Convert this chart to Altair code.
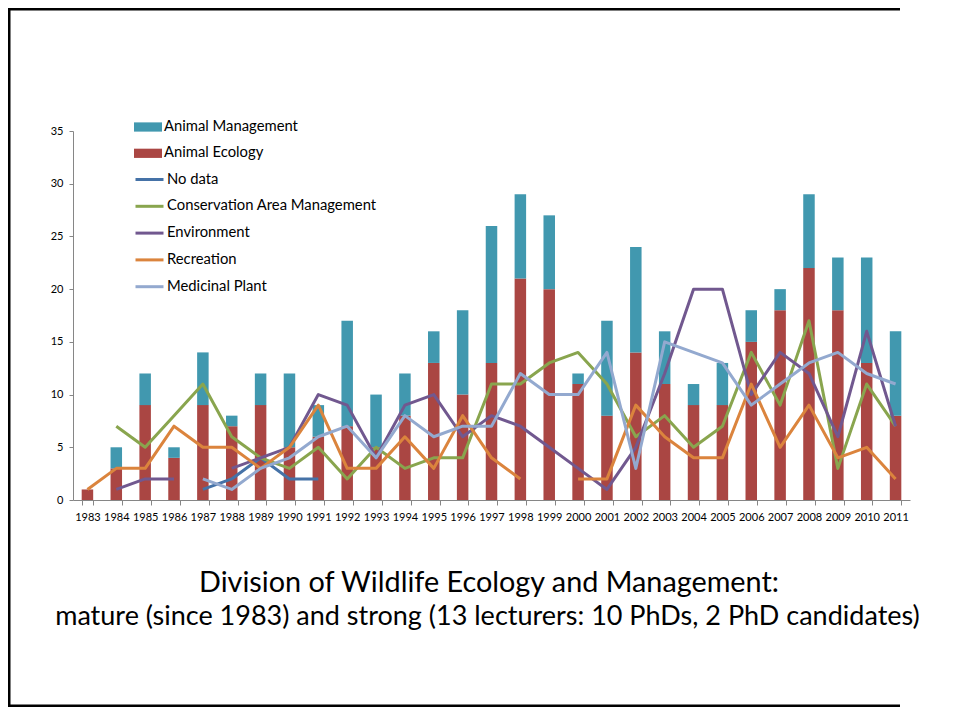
import altair as alt
import pandas as pd

years = ["1983", "1984", "1985", "1986", "1987", "1988", "1989", "1990", "1991", "1992",
         "1993", "1994", "1995", "1996", "1997", "1998", "1999", "2000", "2001", "2002",
         "2003", "2004", "2005", "2006", "2007", "2008", "2009", "2010", "2011"]

animal_ecology = [1, 3, 9, 4, 9, 7, 9, 5, 6, 7, 5, 8, 13, 10, 13, 21, 20, 11, 8, 14,
                  11, 9, 9, 15, 18, 22, 18, 13, 8]
animal_management = [0, 2, 3, 1, 5, 1, 3, 7, 3, 10, 5, 4, 3, 8, 13, 8, 7, 1, 9, 10,
                     5, 2, 4, 3, 2, 7, 5, 10, 8]

N = None
no_data = [N, N, N, N, 1, 2, 4, 2, 2, N, N, N, N, N, N, N, N, N, N, N,
           N, N, N, N, N, N, N, N, N]
conservation = [N, 7, 5, 8, 11, 6, 4, 3, 5, 2, 5, 3, 4, 4, 11, 11, 13, 14, 11, 6,
                8, 5, 7, 14, 9, 17, 3, 11, 7]
environment = [N, 1, 2, 2, N, 3, 4, 5, 10, 9, 4, 9, 10, 6, 8, 7, 5, 3, 1, 5,
               12, 20, 20, 10, 14, 12, 6, 16, 7]
recreation = [1, 3, 3, 7, 5, 5, 3, 5, 9, 3, 3, 6, 3, 8, 4, 2, N, 2, 2, 9,
              6, 4, 4, 11, 5, 9, 4, 5, 2]
medicinal = [N, N, N, N, 2, 1, 3, 4, 6, 7, 4, 8, 6, 7, 7, 12, 10, 10, 14, 3,
             15, 14, 13, 9, 11, 13, 14, 12, 11]

bar_names = ["Animal Management", "Animal Ecology"]
bar_colors = ["#4198AF", "#AA4643"]
line_names = ["No data", "Conservation Area Management", "Environment", "Recreation", "Medicinal Plant"]
line_colors = ["#4572A7", "#89A54E", "#71588F", "#DB843D", "#93A9CF"]
line_series = [no_data, conservation, environment, recreation, medicinal]

title_1 = "Division of Wildlife Ecology and Management:"
title_2 = "mature (since 1983) and strong (13 lecturers: 10 PhDs, 2 PhD candidates)"

FONT = "Lato"
W, H = 837, 369
PAD = {"left": 65, "top": 123, "right": 38, "bottom": 208}

bar_rows = []
for i, y in enumerate(years):
    bar_rows.append({"year": y, "series": "Animal Ecology", "value": animal_ecology[i], "ord": 0})
    bar_rows.append({"year": y, "series": "Animal Management", "value": animal_management[i], "ord": 1})
bar_df = pd.DataFrame(bar_rows)

x_enc = alt.X(
    "year:O",
    sort=years,
    scale=alt.Scale(paddingInner=0.6, paddingOuter=0.3),
    axis=alt.Axis(title=None, labelAngle=0, labelFontSize=11, labelFont=FONT, labelColor="#000000",
                  labelOverlap=False, tickBand="extent", tickSize=5, tickColor="#868686",
                  domainColor="#868686", labelPadding=6),
)
y_enc = alt.Y(
    "value:Q",
    stack="zero",
    scale=alt.Scale(domain=[0, 35], nice=False, zero=True),
    axis=alt.Axis(title=None, values=[0, 5, 10, 15, 20, 25, 30, 35], grid=False, labelFontSize=11,
                  labelFont=FONT, labelColor="#000000", tickSize=4, tickColor="#868686",
                  domainColor="#868686", labelPadding=6),
)

bars = alt.Chart(bar_df).mark_bar(size=11.5).encode(
    x=x_enc,
    y=y_enc,
    color=alt.Color(
        "series:N",
        scale=alt.Scale(domain=bar_names, range=bar_colors),
        legend=alt.Legend(
            title=None, orient="none", legendX=61, legendY=-18, labelFont=FONT, labelFontSize=14.8,
            labelColor="#000000", labelLimit=0, symbolType="M-1,-0.33H1V0.33H-1Z", symbolSize=784,
            symbolStrokeWidth=0, rowPadding=5.3, labelOffset=2, padding=0,
        ),
    ),
    order=alt.Order("ord:Q"),
)

layers = [bars]
for name, vals in zip(line_names, line_series):
    df = pd.DataFrame({"year": years, "value": [float("nan") if v is None else v for v in vals],
                       "series": name})
    stroke_legend = alt.Legend(
        title=None, orient="none", legendX=61, legendY=33, labelFont=FONT, labelFontSize=14.8,
        labelColor="#000000", labelLimit=0, symbolType="stroke", symbolSize=784, symbolStrokeWidth=3,
        rowPadding=3.8, labelOffset=2, padding=0,
    )
    ln = alt.Chart(df).mark_line(strokeWidth=3, strokeJoin="round", strokeCap="butt",
                                 invalid="break-paths-show-domains").encode(
        x=alt.X("year:O", sort=years),
        y=alt.Y("value:Q"),
        stroke=alt.Stroke("series:N", scale=alt.Scale(domain=line_names, range=line_colors),
                          legend=stroke_legend),
    )
    layers.append(ln)

one = pd.DataFrame({"k": [0]})
left_x = -65
top_y = -123
right_end = W + PAD["right"] - 48
bottom_y = H + PAD["bottom"] - 1
frame_top = alt.Chart(one).mark_rect(color="#000000", strokeWidth=0).encode(
    x=alt.value(left_x), x2=alt.value(right_end), y=alt.value(top_y), y2=alt.value(top_y + 2.5))
frame_left = alt.Chart(one).mark_rect(color="#000000", strokeWidth=0).encode(
    x=alt.value(left_x), x2=alt.value(left_x + 2.5), y=alt.value(top_y), y2=alt.value(bottom_y))
frame_bottom = alt.Chart(one).mark_rect(color="#000000", strokeWidth=0).encode(
    x=alt.value(left_x), x2=alt.value(right_end), y=alt.value(bottom_y - 2.5), y2=alt.value(bottom_y))

t1 = alt.Chart(one).mark_text(text=title_1, font=FONT, fontSize=28.8, color="#000000",
                              align="center", baseline="middle").encode(
    x=alt.value(416), y=alt.value(452))
t2 = alt.Chart(one).mark_text(text=title_2, font=FONT, fontSize=27, color="#000000",
                              align="center", baseline="middle").encode(
    x=alt.value(414.5), y=alt.value(486))

chart = alt.layer(*layers, frame_top, frame_left, frame_bottom, t1, t2).resolve_scale(
    color="independent", stroke="shared"
).properties(
    width=W, height=H, autosize=alt.AutoSizeParams(type="none"), padding=PAD,
    background="#ffffff",
).configure_view(stroke=None)

chart.save("out.html", embed_options={"renderer": "svg", "actions": False})
